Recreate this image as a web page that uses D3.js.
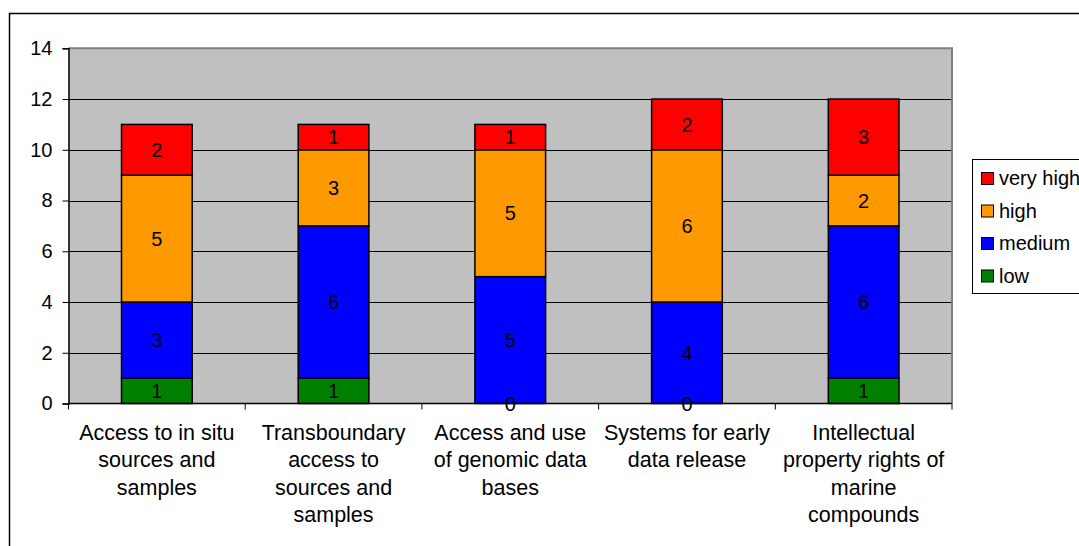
<!DOCTYPE html>
<html>
<head>
<meta charset="utf-8">
<script src="https://cdn.jsdelivr.net/npm/d3@7"></script>
<style>
  html, body { margin: 0; padding: 0; background: #fff; }
  svg { display: block; font-family: Arial, "Liberation Sans", sans-serif; }
</style>
</head>
<body>
<svg id="chart" width="1079" height="546"></svg>
<script>
// Category labels (one entry per line of the wrapped axis label)
const categories = [
  ["Access to in situ", "sources and", "samples"],
  ["Transboundary", "access to", "sources and", "samples"],
  ["Access and use", "of genomic data", "bases"],
  ["Systems for early", "data release"],
  ["Intellectual", "property rights of", "marine", "compounds"]
];
const seriesNames = ["low", "medium", "high", "very high"];
const lowValues = [1, 1, 0, 0, 1];
const mediumValues = [3, 6, 5, 4, 6];
const highValues = [5, 3, 5, 6, 2];
const veryHighValues = [2, 1, 1, 2, 3];
const yTicks = [0, 2, 4, 6, 8, 10, 12, 14];
const colors = ["#008000", "#0000FF", "#FF9900", "#FF0000"];

const svg = d3.select("#chart");
const W = 1079, H = 546;
const plot = { left: 68.5, right: 952, top: 48.3, bottom: 403.5 };

// outer chart frame (left and top edges visible)
svg.append("path")
  .attr("d", `M9.5,${H} V13.5 H${W}`)
  .attr("fill", "none").attr("stroke", "#000").attr("stroke-width", 1.5);

const x = d3.scaleBand()
  .domain(d3.range(categories.length))
  .range([plot.left, plot.right])
  .paddingInner(0).paddingOuter(0);

const y = d3.scaleLinear().domain([0, 14]).range([plot.bottom, plot.top]);

// plot area background
svg.append("rect")
  .attr("x", plot.left).attr("y", plot.top)
  .attr("width", plot.right - plot.left).attr("height", plot.bottom - plot.top)
  .attr("fill", "#C0C0C0");

// horizontal gridlines
svg.append("g").selectAll("line")
  .data(yTicks.filter(d => d > 0 && d < 14))
  .join("line")
  .attr("x1", plot.left).attr("x2", plot.right)
  .attr("y1", d => Math.round(y(d)) + 0.5).attr("y2", d => Math.round(y(d)) + 0.5)
  .attr("stroke", "#000").attr("stroke-width", 1);

// plot area border (top and right)
svg.append("path")
  .attr("d", `M${plot.left},${plot.top} H${plot.right} V${plot.bottom}`)
  .attr("fill", "none").attr("stroke", "#808080").attr("stroke-width", 2);

// stacked data
const rows = categories.map((c, i) => ({
  idx: i,
  "low": lowValues[i],
  "medium": mediumValues[i],
  "high": highValues[i],
  "very high": veryHighValues[i]
}));
const stacked = d3.stack().keys(seriesNames)(rows);

const barW = x.bandwidth() / 2.5;
svg.append("g").selectAll("g")
  .data(stacked)
  .join("g")
  .attr("fill", (d, i) => colors[i])
  .selectAll("rect")
  .data(d => d.filter(p => p[1] - p[0] > 0))
  .join("rect")
  .attr("x", d => x(d.data.idx) + (x.bandwidth() - barW) / 2)
  .attr("width", barW)
  .attr("y", d => y(d[1]))
  .attr("height", d => y(d[0]) - y(d[1]))
  .attr("stroke", "#000").attr("stroke-width", 1.5);

// y axis
const yAxis = svg.append("g")
  .attr("transform", `translate(${plot.left},0)`)
  .call(d3.axisLeft(y).tickValues(yTicks).tickSize(6).tickPadding(10).tickFormat(d3.format("d")));
yAxis.select(".domain").attr("stroke", "#000").attr("stroke-width", 1.5);
yAxis.selectAll(".tick line").attr("stroke", "#000");
yAxis.selectAll(".tick text").attr("font-size", 20).attr("fill", "#000")
  .attr("font-family", "Arial, 'Liberation Sans', sans-serif");

// x axis baseline with ticks at category boundaries
svg.append("line")
  .attr("x1", plot.left).attr("x2", plot.right)
  .attr("y1", plot.bottom).attr("y2", plot.bottom)
  .attr("stroke", "#000").attr("stroke-width", 1.5);
svg.append("g").selectAll("line")
  .data(d3.range(categories.length + 1))
  .join("line")
  .attr("x1", i => i < categories.length ? x(i) : plot.right)
  .attr("x2", i => i < categories.length ? x(i) : plot.right)
  .attr("y1", plot.bottom).attr("y2", plot.bottom + 6)
  .attr("stroke", "#000").attr("stroke-width", 1);

// value labels in the middle of each segment (drawn above the axis)
svg.append("g").selectAll("g")
  .data(stacked)
  .join("g")
  .selectAll("text")
  .data(d => d)
  .join("text")
  .attr("x", d => x(d.data.idx) + x.bandwidth() / 2)
  .attr("y", d => y((d[0] + d[1]) / 2))
  .attr("dy", "0.36em")
  .attr("text-anchor", "middle")
  .attr("fill", "#000")
  .attr("font-size", 20)
  .text(d => d[1] - d[0]);

// category labels
const catG = svg.append("g").selectAll("text")
  .data(categories)
  .join("text")
  .attr("x", (d, i) => x(i) + x.bandwidth() / 2)
  .attr("y", 440)
  .attr("text-anchor", "middle")
  .attr("font-size", 21.5)
  .attr("fill", "#000");
catG.selectAll("tspan")
  .data(d => d)
  .join("tspan")
  .attr("x", function () { return this.parentNode.getAttribute("x"); })
  .attr("dy", (d, i) => i === 0 ? 0 : 27.3)
  .text(d => d);

// legend
const legend = svg.append("g");
legend.append("rect")
  .attr("x", 972.5).attr("y", 159.5)
  .attr("width", 120).attr("height", 134)
  .attr("fill", "#fff").attr("stroke", "#000").attr("stroke-width", 1);
const legendOrder = [3, 2, 1, 0];
const items = legend.selectAll("g.item")
  .data(legendOrder)
  .join("g")
  .attr("class", "item")
  .attr("transform", (d, i) => `translate(0,${178 + i * 32.5})`);
items.append("rect")
  .attr("x", 981.5).attr("y", -5.5)
  .attr("width", 12).attr("height", 12)
  .attr("fill", d => colors[d]).attr("stroke", "#000").attr("stroke-width", 1);
items.append("text")
  .attr("x", 999).attr("y", 0).attr("dy", "0.36em")
  .attr("font-size", 20).attr("fill", "#000")
  .text(d => seriesNames[d]);
</script>
</body>
</html>
